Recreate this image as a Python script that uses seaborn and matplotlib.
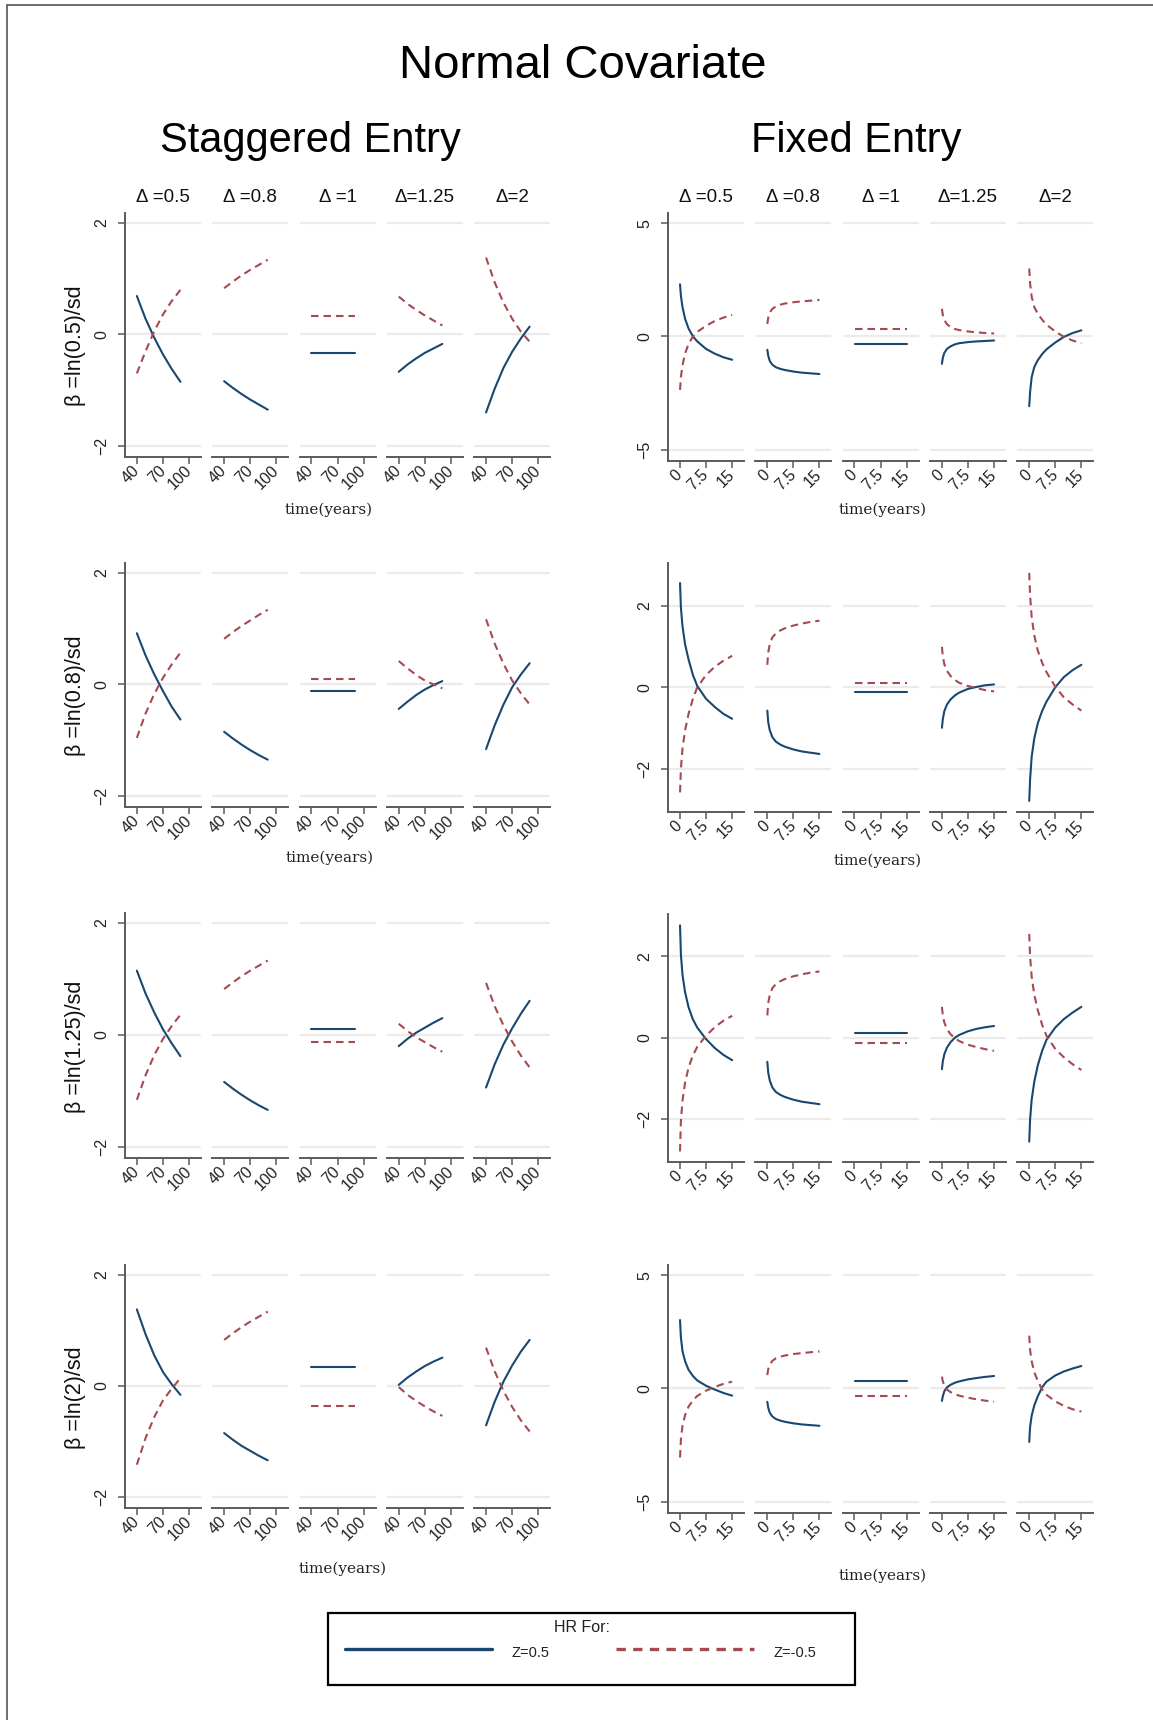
import matplotlib
matplotlib.use("Agg")
import matplotlib.pyplot as plt
import seaborn as sns
import pandas as pd
from matplotlib.lines import Line2D
from matplotlib.patches import Rectangle

sns.set_theme(style="white")
plt.rcParams['font.family'] = ['Liberation Sans', 'DejaVu Sans']

# ---------------- data ----------------
deltas = ["Δ =0.5", "Δ =0.8", "Δ =1", "Δ=1.25", "Δ=2"]
row_labels = ["β =ln(0.5)/sd", "β =ln(0.8)/sd", "β =ln(1.25)/sd", "β =ln(2)/sd"]
series_names = ["Z=0.5", "Z=-0.5"]

stag_t = [40, 50, 60, 70, 80, 90]
fixed_t = [0.05, 0.3, 0.75, 1.5, 2.5, 3.75, 5, 7.5, 10, 12.5, 15]

stag_x_ticks = [40, 70, 100]
stag_x_labels = ["40", "70", "100"]
fixed_x_ticks = [0, 7.5, 15]
fixed_x_labels = ["0", "7.5", "15"]

# Staggered entry, one list per Δ panel
stag_r1_pos = [[0.69, 0.28, -0.06, -0.36, -0.62, -0.85],
               [-0.84, -0.96, -1.07, -1.17, -1.26, -1.35],
               [-0.34, -0.34, -0.34, -0.34, -0.34, -0.34],
               [-0.67, -0.54, -0.43, -0.33, -0.25, -0.17],
               [-1.40, -0.97, -0.60, -0.31, -0.07, 0.14]]
stag_r1_neg = [[-0.70, -0.30, 0.06, 0.36, 0.60, 0.80],
               [0.83, 0.95, 1.06, 1.16, 1.25, 1.34],
               [0.34, 0.34, 0.34, 0.34, 0.34, 0.34],
               [0.68, 0.55, 0.44, 0.34, 0.25, 0.16],
               [1.38, 0.93, 0.57, 0.28, 0.05, -0.13]]
stag_r2_pos = [[0.92, 0.52, 0.18, -0.12, -0.40, -0.63],
               [-0.85, -0.97, -1.08, -1.18, -1.27, -1.35],
               [-0.12, -0.12, -0.12, -0.12, -0.12, -0.12],
               [-0.44, -0.31, -0.19, -0.09, -0.01, 0.06],
               [-1.16, -0.73, -0.36, -0.05, 0.18, 0.38]]
stag_r2_neg = [[-0.96, -0.52, -0.17, 0.12, 0.36, 0.57],
               [0.82, 0.94, 1.05, 1.15, 1.25, 1.34],
               [0.10, 0.10, 0.10, 0.10, 0.10, 0.10],
               [0.42, 0.29, 0.17, 0.07, 0.00, -0.07],
               [1.17, 0.73, 0.37, 0.07, -0.16, -0.36]]
stag_r3_pos = [[1.15, 0.74, 0.40, 0.10, -0.15, -0.38],
               [-0.84, -0.96, -1.07, -1.17, -1.26, -1.34],
               [0.11, 0.11, 0.11, 0.11, 0.11, 0.11],
               [-0.20, -0.07, 0.04, 0.13, 0.22, 0.30],
               [-0.94, -0.52, -0.17, 0.12, 0.38, 0.61]]
stag_r3_neg = [[-1.16, -0.72, -0.36, -0.07, 0.16, 0.36],
               [0.82, 0.94, 1.05, 1.15, 1.24, 1.33],
               [-0.12, -0.12, -0.12, -0.12, -0.12, -0.12],
               [0.20, 0.07, -0.04, -0.13, -0.22, -0.30],
               [0.93, 0.51, 0.17, -0.12, -0.37, -0.58]]
stag_r4_pos = [[1.38, 0.93, 0.55, 0.25, 0.03, -0.16],
               [-0.85, -0.97, -1.08, -1.17, -1.26, -1.34],
               [0.34, 0.34, 0.34, 0.34, 0.34, 0.34],
               [0.02, 0.15, 0.26, 0.36, 0.44, 0.51],
               [-0.71, -0.28, 0.08, 0.37, 0.62, 0.83]]
stag_r4_neg = [[-1.42, -0.94, -0.56, -0.26, -0.05, 0.14],
               [0.83, 0.95, 1.06, 1.16, 1.25, 1.34],
               [-0.36, -0.36, -0.36, -0.36, -0.36, -0.36],
               [-0.02, -0.16, -0.27, -0.37, -0.46, -0.54],
               [0.69, 0.26, -0.09, -0.38, -0.62, -0.82]]

# Fixed entry, one list per Δ panel
fixed_r1_pos = [[2.30, 1.80, 1.30, 0.78, 0.35, 0.00, -0.22, -0.55, -0.76, -0.92, -1.03],
                [-0.59, -0.85, -1.08, -1.25, -1.36, -1.43, -1.48, -1.55, -1.60, -1.63, -1.66],
                [-0.35, -0.35, -0.35, -0.35, -0.35, -0.35, -0.35, -0.35, -0.35, -0.35, -0.35],
                [-1.21, -0.95, -0.72, -0.55, -0.44, -0.35, -0.30, -0.25, -0.22, -0.20, -0.18],
                [-3.08, -2.45, -1.80, -1.35, -1.05, -0.78, -0.57, -0.27, -0.02, 0.15, 0.27]]
fixed_r1_neg = [[-2.36, -1.80, -1.28, -0.75, -0.33, 0.00, 0.20, 0.47, 0.68, 0.83, 0.95],
                [0.55, 0.82, 1.05, 1.22, 1.32, 1.40, 1.45, 1.51, 1.55, 1.58, 1.61],
                [0.34, 0.34, 0.34, 0.34, 0.34, 0.34, 0.34, 0.34, 0.34, 0.34, 0.34],
                [1.22, 0.95, 0.72, 0.54, 0.42, 0.33, 0.28, 0.22, 0.18, 0.15, 0.13],
                [3.00, 2.35, 1.75, 1.30, 1.00, 0.74, 0.52, 0.22, -0.02, -0.18, -0.30]]
fixed_r2_pos = [[2.55, 1.95, 1.50, 1.05, 0.68, 0.30, 0.03, -0.28, -0.48, -0.65, -0.77],
                [-0.57, -0.85, -1.05, -1.22, -1.33, -1.40, -1.45, -1.52, -1.57, -1.60, -1.63],
                [-0.11, -0.11, -0.11, -0.11, -0.11, -0.11, -0.11, -0.11, -0.11, -0.11, -0.11],
                [-0.99, -0.78, -0.58, -0.42, -0.30, -0.20, -0.13, -0.04, 0.01, 0.05, 0.07],
                [-2.78, -2.25, -1.70, -1.25, -0.88, -0.58, -0.35, 0.00, 0.25, 0.42, 0.55]]
fixed_r2_neg = [[-2.57, -2.00, -1.50, -1.05, -0.65, -0.28, 0.00, 0.30, 0.50, 0.65, 0.77],
                [0.55, 0.85, 1.05, 1.22, 1.32, 1.39, 1.44, 1.51, 1.56, 1.60, 1.63],
                [0.11, 0.11, 0.11, 0.11, 0.11, 0.11, 0.11, 0.11, 0.11, 0.11, 0.11],
                [0.99, 0.76, 0.56, 0.40, 0.28, 0.18, 0.11, 0.03, -0.02, -0.07, -0.10],
                [2.80, 2.25, 1.72, 1.27, 0.90, 0.60, 0.37, 0.02, -0.25, -0.42, -0.57]]
fixed_r3_pos = [[2.76, 2.05, 1.55, 1.12, 0.75, 0.45, 0.25, -0.03, -0.25, -0.42, -0.55],
                [-0.59, -0.85, -1.05, -1.22, -1.33, -1.40, -1.45, -1.52, -1.57, -1.60, -1.63],
                [0.11, 0.11, 0.11, 0.11, 0.11, 0.11, 0.11, 0.11, 0.11, 0.11, 0.11],
                [-0.77, -0.58, -0.40, -0.24, -0.11, 0.00, 0.07, 0.16, 0.22, 0.26, 0.29],
                [-2.55, -2.00, -1.52, -1.08, -0.68, -0.32, -0.05, 0.25, 0.46, 0.62, 0.76]]
fixed_r3_neg = [[-2.79, -2.05, -1.55, -1.10, -0.73, -0.43, -0.22, 0.05, 0.26, 0.42, 0.54],
                [0.55, 0.85, 1.05, 1.22, 1.32, 1.39, 1.44, 1.51, 1.56, 1.60, 1.63],
                [-0.12, -0.12, -0.12, -0.12, -0.12, -0.12, -0.12, -0.12, -0.12, -0.12, -0.12],
                [0.76, 0.55, 0.37, 0.21, 0.09, -0.01, -0.08, -0.17, -0.23, -0.28, -0.32],
                [2.55, 2.00, 1.50, 1.06, 0.68, 0.32, 0.05, -0.27, -0.48, -0.65, -0.79]]
fixed_r4_pos = [[3.02, 2.25, 1.65, 1.20, 0.82, 0.55, 0.35, 0.12, -0.05, -0.20, -0.32],
                [-0.59, -0.85, -1.07, -1.24, -1.35, -1.42, -1.47, -1.54, -1.59, -1.62, -1.65],
                [0.34, 0.34, 0.34, 0.34, 0.34, 0.34, 0.34, 0.34, 0.34, 0.34, 0.34],
                [-0.55, -0.35, -0.12, 0.05, 0.16, 0.25, 0.31, 0.40, 0.46, 0.51, 0.55],
                [-2.36, -1.70, -1.20, -0.75, -0.35, 0.05, 0.30, 0.57, 0.75, 0.88, 0.99]]
fixed_r4_neg = [[-3.05, -2.25, -1.65, -1.18, -0.80, -0.53, -0.33, -0.10, 0.07, 0.20, 0.30],
                [0.59, 0.85, 1.05, 1.22, 1.33, 1.40, 1.45, 1.52, 1.56, 1.60, 1.63],
                [-0.34, -0.34, -0.34, -0.34, -0.34, -0.34, -0.34, -0.34, -0.34, -0.34, -0.34],
                [0.52, 0.32, 0.11, -0.05, -0.16, -0.25, -0.32, -0.41, -0.48, -0.54, -0.59],
                [2.33, 1.70, 1.20, 0.72, 0.33, -0.05, -0.28, -0.57, -0.77, -0.92, -1.02]]

stag_pos = [stag_r1_pos, stag_r2_pos, stag_r3_pos, stag_r4_pos]
stag_neg = [stag_r1_neg, stag_r2_neg, stag_r3_neg, stag_r4_neg]
fixed_pos = [fixed_r1_pos, fixed_r2_pos, fixed_r3_pos, fixed_r4_pos]
fixed_neg = [fixed_r1_neg, fixed_r2_neg, fixed_r3_neg, fixed_r4_neg]

# ---------------- layout / style ----------------
W, H = 1153, 1720
fig = plt.figure(figsize=(W / 100, H / 100), dpi=100)
fig.patch.set_facecolor("white")

BLUE = "#1a476f"
RED = "#a54a50"
palette = {"Z=0.5": BLUE, "Z=-0.5": RED}
dashes = {"Z=0.5": "", "Z=-0.5": (3.6, 2.4)}
AXC = "#5a5a5a"
GRID = "#ebebeb"

panel_w = 76
panel_step = 87.3
left_x0 = 125
right_x0 = 668
left_rows = [(213, 457), (563, 807), (913, 1158), (1265, 1508)]
right_rows = [(213, 461), (563, 812), (914, 1162), (1265, 1513)]
left_ylim = (-2.2, 2.18)
right_ylims = [(-5.5, 5.45), (-3.05, 3.04), (-3.05, 3.04), (-5.5, 5.45)]
left_yticks = [-2, 0, 2]
right_yticks = [[-5, 0, 5], [-2, 0, 2], [-2, 0, 2], [-5, 0, 5]]


def fmt(v):
    return ("\u2212" + str(abs(v))) if v < 0 else str(v)


def make_axes(x, top, bottom):
    return fig.add_axes([x / W, 1 - bottom / H, panel_w / W, (bottom - top) / H])


def draw_group(x0, rows, ylims, ytick_sets, t, pos, neg, xlim, xticks, xlabels):
    for r in range(4):
        top, bottom = rows[r]
        for j in range(5):
            ax = make_axes(x0 + j * panel_step, top, bottom)
            df = pd.DataFrame({
                "time": list(t) + list(t),
                "beta": list(pos[r][j]) + list(neg[r][j]),
                "HR": [series_names[0]] * len(t) + [series_names[1]] * len(t),
            })
            for yv in ytick_sets[r]:
                ax.axhline(yv, color=GRID, lw=1.6, zorder=0)
            sns.lineplot(data=df, x="time", y="beta", hue="HR", style="HR",
                         palette=palette, dashes=dashes, ax=ax, legend=False,
                         linewidth=1.5, sort=True, errorbar=None)
            ax.set_xlim(*xlim)
            ax.set_ylim(*ylims[r])
            ax.set_facecolor("white")
            ax.set_xlabel("")
            ax.set_ylabel("")
            ax.grid(False)
            for s in ["top", "right"]:
                ax.spines[s].set_visible(False)
            ax.spines["bottom"].set_color(AXC)
            ax.spines["bottom"].set_linewidth(1.4)
            ax.set_xticks(xticks)
            ax.set_xticklabels(xlabels, rotation=45, ha="right", va="center",
                               rotation_mode="anchor", fontsize=11.5, color="#222222")
            ax.tick_params(axis="x", bottom=True, length=5, width=1.1, color=AXC, pad=3)
            ax.set_yticks(ytick_sets[r])
            if j == 0:
                ax.spines["left"].set_color(AXC)
                ax.spines["left"].set_linewidth(1.4)
                ax.set_yticklabels([fmt(v) for v in ytick_sets[r]], rotation=90,
                                   va="center", fontsize=11.5, color="#222222")
                ax.tick_params(axis="y", left=True, length=5, width=1.1, color=AXC, pad=6)
            else:
                ax.spines["left"].set_visible(False)
                ax.tick_params(axis="y", left=False, labelleft=False)
            if r == 0:
                ax.set_title(deltas[j], fontsize=13.5, pad=8, color="#111111")


draw_group(left_x0, left_rows, [left_ylim] * 4, [left_yticks] * 4,
           stag_t, stag_pos, stag_neg, (26.4, 113.6), stag_x_ticks, stag_x_labels)
draw_group(right_x0, right_rows, right_ylims, right_yticks,
           fixed_t, fixed_pos, fixed_neg, (-3.4, 18.4), fixed_x_ticks, fixed_x_labels)

# y labels (left group only)
for r, (top, bottom) in enumerate(left_rows):
    fig.text(75 / W, 1 - ((top + bottom) / 2 + 11) / H, row_labels[r], rotation=90,
             ha="center", va="center", fontsize=15.5, color="#111111")

# x axis titles
serif = ["DejaVu Serif"]
for (x, y) in [(329, 510), (330, 858), (343, 1569), (883, 510), (878, 861), (883, 1576)]:
    fig.text(x / W, 1 - y / H, "time(years)", ha="center", va="center",
             fontsize=11, family=serif, color="#222222")

# titles
narrow = ["Liberation Sans Narrow", "Liberation Sans", "DejaVu Sans"]
fig.text(583 / W, 1 - 78 / H, "Normal Covariate", ha="center", va="baseline",
         fontsize=34, family=narrow, color="black")
fig.text(310 / W, 1 - 152 / H, "Staggered Entry", ha="center", va="baseline",
         fontsize=30, family=narrow, color="black")
fig.text(856 / W, 1 - 152 / H, "Fixed Entry", ha="center", va="baseline",
         fontsize=30, family=narrow, color="black")

# legend box
fig.add_artist(Rectangle((328 / W, 1 - 1685 / H), (855 - 328) / W, (1685 - 1613) / H,
                         transform=fig.transFigure, fill=False, edgecolor="black", lw=1.6))
fig.text(582 / W, 1 - 1628 / H, "HR For:", ha="center", va="center", fontsize=11.5,
         color="#222222")
fig.add_artist(Line2D([345 / W, 492 / W], [1 - 1649 / H] * 2, transform=fig.transFigure,
                      color=BLUE, lw=2.4))
fig.add_artist(Line2D([616 / W, 754 / W], [1 - 1649 / H] * 2, transform=fig.transFigure,
                      color=RED, lw=2.4, dashes=(2.8, 2.2)))
fig.text(512 / W, 1 - 1653 / H, series_names[0], ha="left", va="center", fontsize=10.5,
         color="#222222")
fig.text(773 / W, 1 - 1653 / H, series_names[1], ha="left", va="center", fontsize=10.5,
         color="#222222")

# outer frame (top and left edges)
fig.add_artist(Line2D([7 / W, 1.0], [1 - 5 / H] * 2, transform=fig.transFigure,
                      color="#555555", lw=1.2))
fig.add_artist(Line2D([7 / W, 7 / W], [0.0, 1 - 5 / H], transform=fig.transFigure,
                      color="#555555", lw=1.2))

fig.savefig("out.png", dpi=100, facecolor="white")
